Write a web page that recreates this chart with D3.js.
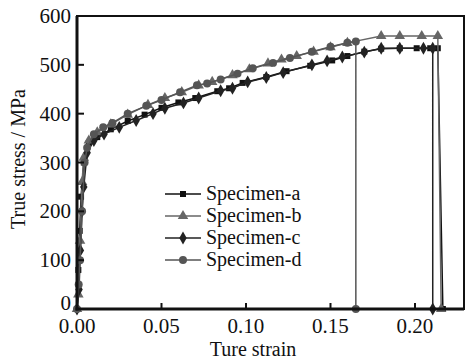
<!DOCTYPE html>
<html>
<head>
<meta charset="utf-8">
<script src="https://cdn.jsdelivr.net/npm/d3@7"></script>
<style>
  body { margin: 0; background: #fff; }
</style>
</head>
<body>
<svg id="chart" width="466" height="362"></svg>
<script>
// [true strain, true stress / MPa]
const specimenA = [[0,0],[0.0008,80],[0.0016,160],[0.0024,230],[0.004,300],[0.007,340],[0.012,352],[0.02,368],[0.03,385],[0.04,398],[0.05,412],[0.06,423],[0.07,432],[0.083,446],[0.09,452],[0.098,463],[0.112,475],[0.124,487],[0.138,498],[0.151,509],[0.16,518],[0.17,527],[0.18,533],[0.191,534],[0.201,534],[0.209,534],[0.2135,534],[0.2165,0]];
const specimenB = [[0,0],[0.0008,30],[0.0018,140],[0.003,260],[0.004,310],[0.007,345],[0.012,362],[0.02,378],[0.03,398],[0.042,418],[0.052,432],[0.062,444],[0.072,458],[0.08,465],[0.092,479],[0.102,491],[0.113,503],[0.121,511],[0.13,518],[0.14,527],[0.15,536],[0.16,545],[0.18,559],[0.191,559],[0.204,559],[0.2135,559],[0.2155,0]];
const specimenC = [[0,0],[0.0012,40],[0.002,120],[0.003,200],[0.004,250],[0.006,320],[0.01,345],[0.016,358],[0.025,372],[0.035,386],[0.045,400],[0.052,411],[0.063,422],[0.072,432],[0.085,447],[0.092,452],[0.101,465],[0.112,474],[0.122,484],[0.139,500],[0.148,508],[0.157,516],[0.17,526],[0.18,534],[0.191,534],[0.205,534],[0.2105,534],[0.2105,0]];
const specimenD = [[0,0],[0.001,50],[0.0018,100],[0.003,200],[0.0045,300],[0.006,330],[0.01,358],[0.0155,372],[0.021,381],[0.03,400],[0.041,416],[0.05,428],[0.061,444],[0.071,458],[0.077,462],[0.085,470],[0.095,482],[0.104,493],[0.116,504],[0.126,514],[0.139,527],[0.15,537],[0.16,545],[0.165,548],[0.165,0]];

const seriesNames = ["Specimen-a", "Specimen-b", "Specimen-c", "Specimen-d"];
const xTicks = [0, 0.05, 0.10, 0.15, 0.20];
const yTicks = [0, 100, 200, 300, 400, 500, 600];

const series = [
  { name: seriesNames[0], data: specimenA, color: "#111", symbol: d3.symbolSquare, size: 36 },
  { name: seriesNames[1], data: specimenB, color: "#666", symbol: d3.symbolTriangle, size: 48 },
  { name: seriesNames[2], data: specimenC, color: "#222", symbol: d3.symbolDiamond, size: 48 },
  { name: seriesNames[3], data: specimenD, color: "#555", symbol: d3.symbolCircle, size: 50 }
];

const FONT = '"Liberation Serif"';
const svg = d3.select("#chart");
const plotL = 77, plotR = 464, plotT = 16, plotB = 309;

const x = d3.scaleLinear().domain([0, 0.229]).range([plotL, plotR]);
const y = d3.scaleLinear().domain([0, 600]).range([plotB, plotT]);

// data first, frame on top
const line = d3.line().x(d => x(d[0])).y(d => y(d[1]));
const g = svg.append("g");

series.forEach(s => {
  g.append("path")
    .attr("d", line(s.data))
    .attr("fill", "none")
    .attr("stroke", s.color)
    .attr("stroke-width", 1.5);
  g.selectAll(null)
    .data(s.data)
    .join("path")
    .attr("transform", d => `translate(${x(d[0])},${y(d[1])})`)
    .attr("d", d3.symbol(s.symbol, s.size))
    .attr("fill", s.color);
});

// frame
svg.append("rect")
  .attr("x", plotL).attr("y", plotT)
  .attr("width", plotR - plotL).attr("height", plotB - plotT)
  .attr("fill", "none").attr("stroke", "#111").attr("stroke-width", 2);
svg.append("line").attr("x1", plotL).attr("x2", plotL).attr("y1", plotT).attr("y2", plotB + 1.5)
  .attr("stroke", "#111").attr("stroke-width", 3);
svg.append("line").attr("x1", plotL - 1.5).attr("x2", plotR).attr("y1", plotB).attr("y2", plotB)
  .attr("stroke", "#111").attr("stroke-width", 3);

// x ticks (inward)
svg.selectAll(".xt").data(xTicks).join("line")
  .attr("x1", d => x(d)).attr("x2", d => x(d))
  .attr("y1", plotB).attr("y2", plotB - 6)
  .attr("stroke", "#111").attr("stroke-width", 2);
svg.selectAll(".xl").data(xTicks).join("text")
  .attr("x", d => x(d)).attr("y", 333)
  .attr("text-anchor", "middle")
  .attr("font-size", 21)
  .attr("fill", "#111")
  .style("font-family", FONT)
  .text(d => d3.format(".2f")(d));

// y ticks (inward)
svg.selectAll(".yt").data(yTicks).join("line")
  .attr("x1", plotL).attr("x2", plotL + 7)
  .attr("y1", d => y(d)).attr("y2", d => y(d))
  .attr("stroke", "#111").attr("stroke-width", 2);
svg.selectAll(".yl").data(yTicks).join("text")
  .attr("x", 71).attr("y", d => Math.min(y(d) + 7, 309.5))
  .attr("text-anchor", "end")
  .attr("font-size", 21)
  .attr("fill", "#111")
  .style("font-family", FONT)
  .text(d => d);

// axis titles
svg.append("text")
  .attr("transform", "translate(25,159) rotate(-90)")
  .attr("text-anchor", "middle")
  .attr("font-size", 20)
  .attr("fill", "#111")
  .style("font-family", FONT)
  .text("True stress / MPa");
svg.append("text")
  .attr("x", 253).attr("y", 356)
  .attr("text-anchor", "middle")
  .attr("font-size", 20)
  .attr("fill", "#111")
  .style("font-family", FONT)
  .text("Ture strain");

// legend
const legend = svg.append("g");
series.forEach((s, i) => {
  const ly = 194 + i * 22;
  legend.append("line")
    .attr("x1", 165).attr("x2", 201).attr("y1", ly).attr("y2", ly)
    .attr("stroke", s.color).attr("stroke-width", 1.5);
  legend.append("path")
    .attr("transform", `translate(183,${ly})`)
    .attr("d", d3.symbol(s.symbol, s.size))
    .attr("fill", s.color);
  legend.append("text")
    .attr("x", 206).attr("y", ly + 6)
    .attr("font-size", 20)
    .attr("fill", "#111")
    .style("font-family", FONT)
    .text(s.name);
});
</script>
</body>
</html>
